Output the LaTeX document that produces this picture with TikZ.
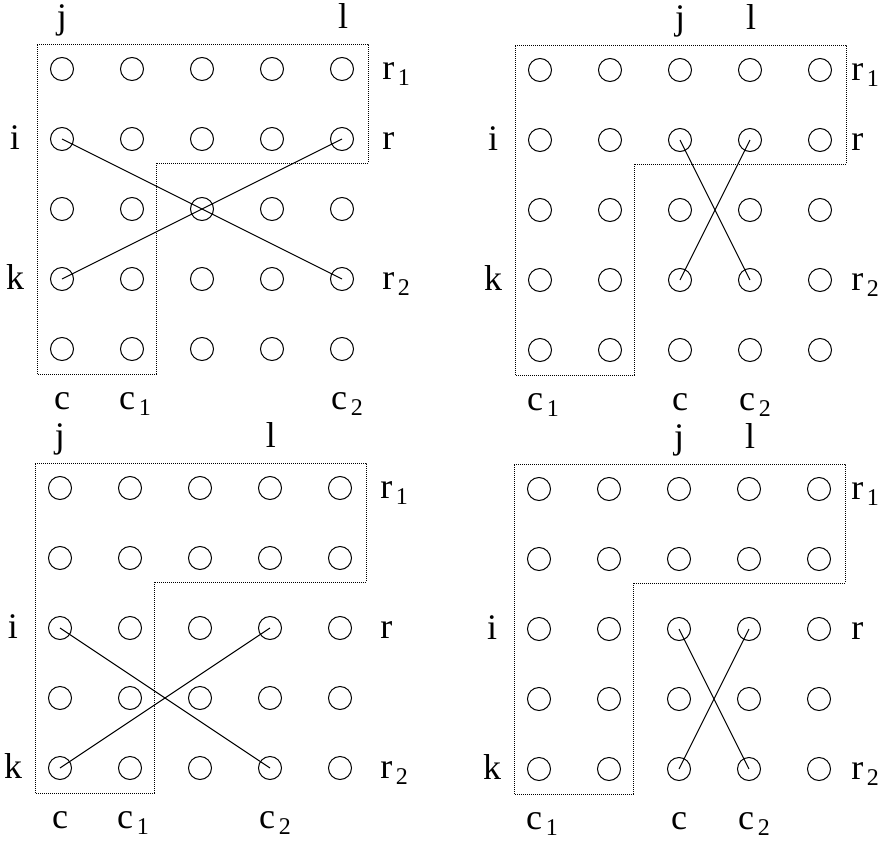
\documentclass[tikz,border=0pt]{standalone}
\usepackage{fontspec}
\setmainfont{Liberation Serif}
\usetikzlibrary{positioning}
\newcommand{\idx}[2]{#1\hspace{0.1em}\raisebox{-0.4ex}{\fontsize{12}{13}\selectfont #2}}

\begin{document}
\begin{tikzpicture}[x=0.5pt,y=-0.5pt,
  font=\fontsize{18}{21}\selectfont,
  dot/.style={circle,draw,line width=0.5pt,minimum size=11.5pt,inner sep=0pt},
  lbl/.style={inner sep=0pt,anchor=base},
  region/.style={line width=0.4pt,dash pattern=on 0.5pt off 0.5pt},
  cross/.style={line width=0.5pt}]
  \useasboundingbox (0,0) rectangle (885,841);

  \foreach \p/\ox/\oy/\jc/\lc/\ir/\kr/\cc/\rx in
      {1/62/69/0/4/1/3/1/320, 2/540/70/2/3/1/3/0/311, 3/60/488/0/3/2/4/1/320, 4/539/489/2/3/2/4/0/312} {
    % 格子点
    \foreach \r in {0,...,4}
      \foreach \c in {0,...,4}
        \node[dot] (p\p-\r-\c) at (\ox+70*\c,\oy+70*\r) {};

    % 点線の領域
    \draw[region] (\ox-25,\oy-25) -- (\ox+306,\oy-25) -- (\ox+306,\oy+94)
      -- (\ox+94,\oy+94) -- (\ox+94,\oy+305) -- (\ox-25,\oy+305) -- cycle;

    % 交差する線
    \draw[cross] (p\p-\ir-\jc.center) -- (p\p-\kr-\lc.center);
    \draw[cross] (p\p-\kr-\jc.center) -- (p\p-\ir-\lc.center);

    % 列のラベル
    \node[lbl] (j\p) at (\ox+70*\jc,\oy-41) {j};
    \node[lbl] (l\p) at (\ox+70*\lc+1,\oy-41) {l};
    \node[lbl] (c\p) at (\ox+70*\jc,\oy+340) {c};
    \node[lbl] (ca\p) at (\ox+70*\cc+3,\oy+340) {\idx{c}{1}};
    \node[lbl] (cb\p) at (\ox+70*\lc+5,\oy+340) {\idx{c}{2}};

    % 行のラベル
    \node[lbl] (i\p) at (\ox-47,\oy+70*\ir+10) {i};
    \node[lbl] (k\p) at (\ox-47,\oy+70*\kr+10) {k};
    \node[lbl,anchor=base west] (ra\p) at (\ox+\rx,\oy+10) {\idx{r}{1}};
    \node[lbl,anchor=base west] (r\p) at (\ox+\rx,\oy+70*\ir+10) {r};
    \node[lbl,anchor=base west] (rb\p) at (\ox+\rx,\oy+70*\kr+10) {\idx{r}{2}};
  }
\end{tikzpicture}
\end{document}
